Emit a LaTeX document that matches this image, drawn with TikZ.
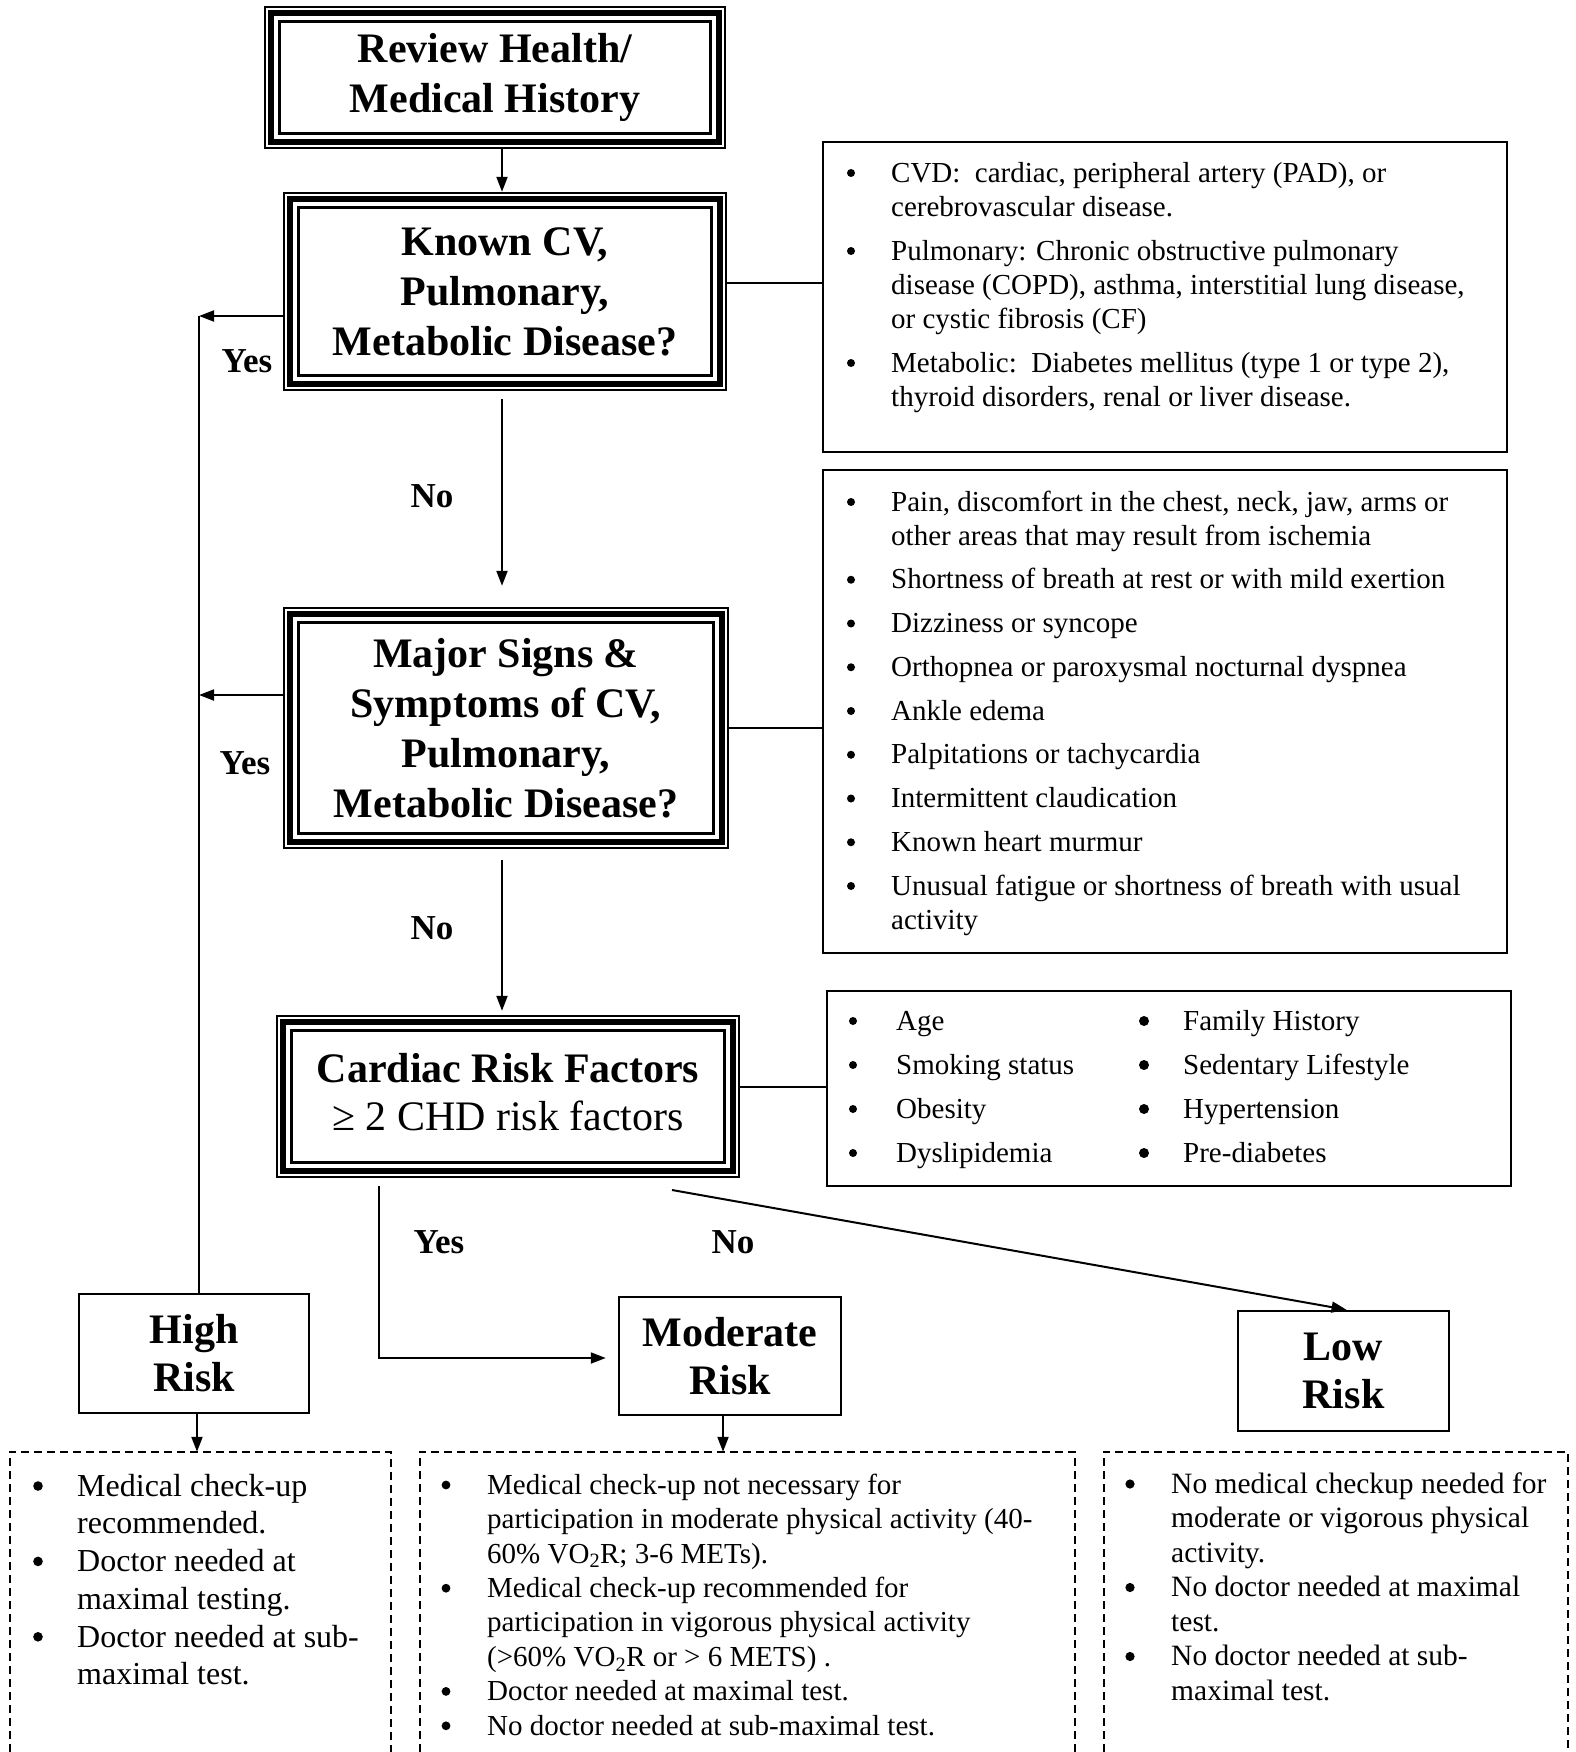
\documentclass[tikz,border=0pt]{standalone}
\usepackage{fontspec}
\setmainfont{Liberation Serif}
\usetikzlibrary{arrows.meta,calc}
\newcommand\fs[2]{\fontsize{#1pt}{#2pt}\selectfont}
\newcommand\tp[1]{\rule{0pt}{#1pt}}
\newcommand\tripframe[1]{%
 \draw[line width=2.5pt] ([shift={(1.25pt,-1.25pt)}]#1.north west) rectangle ([shift={(-1.25pt,1.25pt)}]#1.south east);
 \draw[line width=6pt] ([shift={(7.5pt,-7.5pt)}]#1.north west) rectangle ([shift={(-7.5pt,7.5pt)}]#1.south east);
 \draw[line width=2.5pt] ([shift={(15.75pt,-15.75pt)}]#1.north west) rectangle ([shift={(-15.75pt,15.75pt)}]#1.south east);}
\tikzset{
 title/.style={inner sep=0pt, align=center, font=\fs{42}{50}\bfseries},
 info/.style={draw, line width=2pt, inner sep=0pt},
 itxt/.style={anchor=north west, inner sep=0pt, align=left, font=\fs{29}{34}},
 conn/.style={line width=2pt},
 arr/.style={line width=2pt, -{Triangle[length=15pt,width=11pt]}},
 lbl/.style={font=\fs{35}{40}\bfseries, inner sep=0pt},
 risk/.style={draw, line width=2.5pt, inner sep=0pt, align=center, font=\fs{42}{48}\bfseries},
 dashbox/.style={line width=1.5pt, dash pattern=on 8pt off 5pt},
 area/.style={inner sep=0pt},
}
\begin{document}
\begin{tikzpicture}[x=1pt,y=-1pt]
\useasboundingbox (0,0) rectangle (1575,1752);

% main boxes
\node[title, minimum width=462pt, minimum height=143pt] (b1) at (495,77.5) {Review Health/\\Medical History};
\node[title, minimum width=444pt, minimum height=199pt] (b2) at (505,291.5) {Known CV,\\Pulmonary,\\Metabolic Disease?};
\node[title, minimum width=446pt, minimum height=242pt] (b3) at (506,728) {Major Signs \&\\Symptoms of CV,\\Pulmonary,\\Metabolic Disease?};
\node[title, minimum width=464pt, minimum height=163pt, font=\fs{42}{48}] (b4) at (508,1096.5) {\textbf{Cardiac Risk Factors}\\≥ 2 CHD risk factors\\[-38pt]\mbox{}};
\tripframe{b1}
\tripframe{b2}
\tripframe{b3}
\tripframe{b4}

% info boxes
\node[info, minimum width=684pt, minimum height=310pt] (i1) at (1165,297) {};
\node[info, minimum width=684pt, minimum height=483pt] (i2) at (1165,711.5) {};
\node[info, minimum width=684pt, minimum height=195pt] (i3) at (1169,1088.5) {};

\node[itxt] (t1) at (891,158) {\tp{24}CVD:\ \ cardiac, peripheral artery (PAD), or\\cerebrovascular disease.\\[10pt]
Pulmonary: Chronic obstructive pulmonary\\disease (COPD), asthma, interstitial lung disease,\\or cystic fibrosis (CF)\\[10pt]
Metabolic:\ \ Diabetes mellitus (type 1 or type 2),\\thyroid disorders, renal or liver disease.};
\foreach \yy in {182,260,372} \fill (851,\yy-9) circle (4);

\node[itxt] (t2) at (891,487) {\tp{24}Pain, discomfort in the chest, neck, jaw, arms or\\other areas that may result from ischemia\\[9.75pt]
Shortness of breath at rest or with mild exertion\\[9.75pt]
Dizziness or syncope\\[9.75pt]
Orthopnea or paroxysmal nocturnal dyspnea\\[9.75pt]
Ankle edema\\[9.75pt]
Palpitations or tachycardia\\[9.75pt]
Intermittent claudication\\[9.75pt]
Known heart murmur\\[9.75pt]
Unusual fatigue or shortness of breath with usual\\activity};
\foreach \yy in {511,588.75,632.5,676.25,720,763.75,807.5,851.25,895} \fill (851,\yy-9) circle (4);

\node[itxt, font=\fs{29}{44}] (t3a) at (896,1006) {\tp{24}Age\\Smoking status\\Obesity\\Dyslipidemia};
\node[itxt, font=\fs{29}{44}] (t3b) at (1183,1006) {\tp{24}Family History\\Sedentary Lifestyle\\Hypertension\\Pre-diabetes};
\foreach \k in {0,...,3} {
  \fill (853,1030+\k*44-9) circle (4);
  \fill (1144,1030+\k*44-9) circle (5);
}

% risk boxes
\node[risk, minimum width=230pt, minimum height=119pt] (hr) at (194,1353.5) {High\\Risk};
\node[risk, minimum width=222pt, minimum height=118pt] (mr) at (730,1356) {Moderate\\Risk};
\node[risk, minimum width=211pt, minimum height=120pt] (lr) at (1343.5,1371) {Low\\Risk};

% dashed boxes (open at the bottom edge)
\node[area, minimum width=381pt, minimum height=300pt] (d1) at (200.5,1602) {};
\node[area, minimum width=655pt, minimum height=300pt] (d2) at (747.5,1602) {};
\node[area, minimum width=464pt, minimum height=300pt] (d3) at (1336,1602) {};
\draw[dashbox] (d1.south west) |- (d1.north east) -- (d1.south east);
\draw[dashbox] (d2.south west) |- (d2.north east) -- (d2.south east);
\draw[dashbox] (d3.south west) |- (d3.north east) -- (d3.south east);

\node[itxt, font=\fs{32}{37.7}] (t4) at (77,1470) {\tp{26}Medical check-up\\recommended.\\
Doctor needed at\\maximal testing.\\
Doctor needed at sub-\\maximal test.};
\foreach \k in {0,2,4} \fill (38,1496+\k*37.7-10) circle (4.8);

\node[itxt, font=\fs{29}{34.4}] (t5) at (487,1470) {\tp{24}Medical check-up not necessary for\\participation in moderate physical activity (40-\\60\% VO\textsubscript{2}R; 3-6 METs).\\
Medical check-up recommended for\\participation in vigorous physical activity\\(>60\% VO\textsubscript{2}R or > 6 METS) .\\
Doctor needed at maximal test.\\
No doctor needed at sub-maximal test.};
\foreach \k in {0,3,6,7} \fill (446,1494+\k*34.4-9) circle (4.4);

\node[itxt, font=\fs{29.5}{34.5}] (t6) at (1171,1469) {\tp{24}No medical checkup needed for\\moderate or vigorous physical\\activity.\\
No doctor needed at maximal\\test.\\
No doctor needed at sub-\\maximal test.};
\foreach \k in {0,3,5} \fill (1130,1493+\k*34.5-9) circle (4.6);

% labels
\node[lbl] (yes1) at (247,361) {Yes};
\node[lbl] (yes2) at (245,763) {Yes};
\node[lbl] (no1) at (432,496) {No};
\node[lbl] (no2) at (432,928) {No};
\node[lbl] (yes3) at (439,1242) {Yes};
\node[lbl] (no3) at (733,1242) {No};

% connectors
\coordinate (mx) at (502,0);
\coordinate (vl) at (199,316);
\coordinate (ys) at (379,1186);
\coordinate (ln) at (672,1190);

\draw[arr] (b1.south -| mx) -- (b2.north -| mx);
\draw[arr, shorten <=8pt, shorten >=21pt] (b2.south -| mx) -- (b3.north -| mx);
\draw[arr, shorten <=11pt, shorten >=4pt] (b3.south -| mx) -- (b4.north -| mx);

\draw[arr] ([yshift=-24.5pt]b2.west) -- ([yshift=-24.5pt]b2.west -| vl);
\draw[arr] ([yshift=33pt]b3.west) -- ([yshift=33pt]b3.west -| vl);
\draw[conn] (vl) -- (vl |- hr.north);

\draw[line width=1.5pt] ([yshift=8.5pt]b2.east) -- ([yshift=8.5pt]b2.east -| i1.west);
\draw[line width=1.5pt] (b3.east) -- (b3.east -| i2.west);
\draw[line width=1.5pt] ([yshift=9.5pt]b4.east) -- ([yshift=9.5pt]b4.east -| i3.west);

\draw[arr, shorten >=12pt] (ys) |- ([yshift=-2pt]mr.west);
\draw[arr] (ln) -- ([xshift=3pt]lr.north);

\draw[arr] ([xshift=3pt]hr.south) -- ([xshift=3pt]hr.south |- d1.north);
\draw[arr] ([xshift=-7pt]mr.south) -- ([xshift=-7pt]mr.south |- d2.north);
\end{tikzpicture}
\end{document}
